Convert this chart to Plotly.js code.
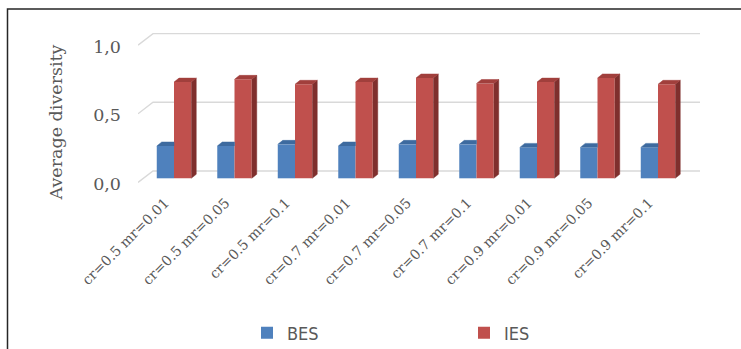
<!DOCTYPE html>
<html>
<head>
<meta charset="utf-8">
<script src="https://cdn.plot.ly/plotly-3.0.1.min.js"></script>
<style>
  html, body { margin: 0; padding: 0; background: #ffffff; }
  #chart { width: 741px; height: 349px; }
</style>
</head>
<body>
<div id="chart"></div>
<script>
// Parameter settings (crossover rate / mutation rate)
const categories = [
  'cr=0.5 mr=0.01', 'cr=0.5 mr=0.05', 'cr=0.5 mr=0.1',
  'cr=0.7 mr=0.01', 'cr=0.7 mr=0.05', 'cr=0.7 mr=0.1',
  'cr=0.9 mr=0.01', 'cr=0.9 mr=0.05', 'cr=0.9 mr=0.1'
];
const seriesNames = ['BES', 'IES'];
const besValues = [0.235, 0.235, 0.247, 0.235, 0.247, 0.247, 0.225, 0.225, 0.225];
const iesValues = [0.700, 0.720, 0.684, 0.700, 0.730, 0.690, 0.700, 0.730, 0.684];
const yTickVals = [0, 0.5, 1.0];
const yTickText = ['0,0', '0,5', '1,0'];

// ---- page geometry (pixels) ----
const W = 741, H = 349;
const plotL = 138, plotR = 700, plotT = 28, plotB = 216;
const axisLinePx = 190;           // where the category labels hang from
const wallZeroPx = 171;           // back-wall zero line
const pxPerUnit = 137.4;          // vertical scale
const firstGroupPx = 174, groupPx = 60.5;

const yRange = [(wallZeroPx - plotB) / pxPerUnit, (wallZeroPx - plotT) / pxPerUnit];
const xRange = [(plotL - firstGroupPx) / groupPx, (plotR - firstGroupPx) / groupPx];

// pseudo-3D depth offsets, in data units
const BARGAP = 0.43;
const BAR_W = (1 - BARGAP) / 2;
const BAR_BASE = -7.3 / pxPerUnit;      // front face sits in front of the back wall
const DX = 5 / groupPx, DY = 4 / pxPerUnit;          // bar depth
const FLOOR_DX = 15 / groupPx, FLOOR_DY = 11.5 / pxPerUnit; // wall/floor depth

const idx = categories.map((_, i) => i);

// side and top faces for one series; trimRight hides what the next bar covers
function barFaces(values, k, trimRight) {
  const side = { x: [], y: [] }, top = { x: [], y: [] };
  values.forEach((v, i) => {
    const xl = i - BAR_W + k * BAR_W, xr = xl + BAR_W;
    const yb = BAR_BASE, yt = BAR_BASE + v;
    if (trimRight) {
      top.x.push(xl, xl + DX, xr, xr, null);
      top.y.push(yt, yt + DY, yt + DY, yt, null);
    } else {
      top.x.push(xl, xl + DX, xr + DX, xr, null);
      top.y.push(yt, yt + DY, yt + DY, yt, null);
      side.x.push(xr, xr + DX, xr + DX, xr, null);
      side.y.push(yb, yb + DY, yt + DY, yt, null);
    }
  });
  return { side, top };
}

const colors = {
  bes: { front: '#4f81bd', top: '#3d6a9f', side: '#34587f' },
  ies: { front: '#c0504d', top: '#a13f3c', side: '#7f2f2d' }
};

const besFaces = barFaces(besValues, 0, true);
const iesFaces = barFaces(iesValues, 1, false);

function faceTrace(pts, color) {
  return {
    type: 'scatter', mode: 'lines', x: pts.x, y: pts.y,
    fill: 'toself', fillcolor: color,
    line: { color: color, width: 0.5 },
    hoverinfo: 'skip', showlegend: false
  };
}

const traces = [
  {
    type: 'bar', name: seriesNames[0], x: idx, y: besValues, base: BAR_BASE,
    width: BAR_W, offset: -BAR_W,
    marker: { color: colors.bes.front, line: { width: 0 } },
    legend: 'legend'
  },
  {
    type: 'bar', name: seriesNames[1], x: idx, y: iesValues, base: BAR_BASE,
    width: BAR_W, offset: 0,
    marker: { color: colors.ies.front, line: { width: 0 } },
    legend: 'legend2'
  },
  faceTrace(besFaces.top, colors.bes.top),
  faceTrace(iesFaces.side, colors.ies.side),
  faceTrace(iesFaces.top, colors.ies.top)
];

// back-wall gridlines with their floor stubs
const gridShapes = yTickVals.map(v => ({
  type: 'path', xref: 'x', yref: 'y', layer: 'below',
  path: `M ${xRange[0]},${v - FLOOR_DY} L ${xRange[0] + FLOOR_DX},${v} L ${xRange[1]},${v}`,
  line: { color: '#d9d9d9', width: 1.4 }
}));

const plotW = plotR - plotL, plotH = plotB - plotT;
const pxToPaperX = px => (px - plotL) / plotW;
const pxToPaperY = py => (plotB - py) / plotH;

// chart frame
const frame = {
  type: 'rect', xref: 'paper', yref: 'paper', layer: 'above',
  x0: pxToPaperX(7.5), x1: pxToPaperX(W + 40),
  y0: pxToPaperY(H + 40), y1: pxToPaperY(9),
  line: { color: '#262626', width: 1.5 }, fillcolor: 'rgba(0,0,0,0)'
};

const serif = 'DejaVu Serif, Georgia, serif';
const legendFont = { family: 'DejaVu Sans Condensed, Liberation Sans Narrow, Liberation Sans, sans-serif', size: 18, color: '#595959' };

function legendAt(px, py) {
  return {
    orientation: 'h', xref: 'container', yref: 'container',
    x: px / W, xanchor: 'left', y: 1 - py / H, yanchor: 'middle',
    font: legendFont, bgcolor: 'rgba(0,0,0,0)', borderwidth: 0
  };
}

const layout = {
  width: W, height: H,
  margin: { l: plotL, r: W - plotR, t: plotT, b: H - plotB, pad: 0, autoexpand: false },
  paper_bgcolor: '#ffffff', plot_bgcolor: 'rgba(0,0,0,0)',
  barmode: 'overlay', bargap: BARGAP,
  xaxis: {
    type: 'linear', range: xRange, autorange: false,
    anchor: 'free', position: pxToPaperY(axisLinePx),
    tickmode: 'array', tickvals: idx, ticktext: categories,
    tickangle: -45, ticks: '', showgrid: false, zeroline: false, showline: false,
    ticklabelstandoff: 1, ticklabelshift: -9,
    tickfont: { family: serif, size: 14, color: '#595959' }
  },
  yaxis: {
    range: yRange, autorange: false,
    tickmode: 'array', tickvals: yTickVals, ticktext: yTickText,
    ticks: '', showgrid: false, zeroline: false, showline: false,
    ticklabelstandoff: 16, ticklabelshift: 13,
    tickfont: { family: serif, size: 17.5, color: '#595959' },
    title: { text: 'Average diversity', standoff: 26, font: { family: serif, size: 17.5, color: '#595959' } }
  },
  legend: legendAt(247, 333),
  legend2: legendAt(464, 333),
  shapes: gridShapes.concat([frame]),
  showlegend: true
};

Plotly.newPlot('chart', traces, layout, { staticPlot: true, displayModeBar: false });
</script>
</body>
</html>
